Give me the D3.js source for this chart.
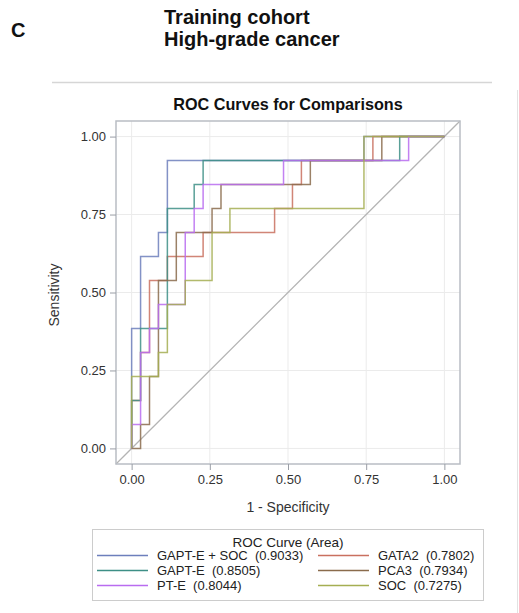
<!DOCTYPE html>
<html>
<head>
<meta charset="utf-8">
<script src="https://cdn.jsdelivr.net/npm/d3@7"></script>
<style>
  body { margin: 0; background: #fff; }
  svg { font-family: "Liberation Sans", Arial, sans-serif; }
  text { white-space: pre; }
</style>
</head>
<body>
<div id="chart"></div>
<script>
// counts of negatives / positives in the cohort
const nNeg = 35, nPos = 13;

// ROC vertices as [false positives, true positives]
const gaptSoc = [[0,0],[0,5],[1,5],[1,8],[3,8],[3,9],[4,9],[4,12],[26,12],[26,13],[35,13]];
const gata2 = [[0,0],[0,2],[1,2],[1,4],[2,4],[2,7],[4,7],[4,8],[8,8],[8,9],[16,9],[16,10],[18,10],[18,11],[19,11],[19,12],[27,12],[27,13],[35,13]];
const gapt = [[0,0],[0,2],[1,2],[1,5],[4,5],[4,10],[7,10],[7,11],[8,11],[8,12],[30,12],[30,13],[35,13]];
const pca3 = [[0,0],[1,0],[1,1],[2,1],[2,3],[3,3],[3,7],[5,7],[5,9],[9,9],[9,10],[10,10],[10,11],[20,11],[20,12],[28,12],[28,13],[35,13]];
const pte = [[0,0],[0,1],[1,1],[1,4],[2,4],[2,5],[3,5],[3,6],[6,6],[6,9],[7,9],[7,10],[8,10],[8,11],[17,11],[17,12],[31,12],[31,13],[35,13]];
const soc = [[0,0],[0,3],[3,3],[3,4],[4,4],[4,6],[6,6],[6,7],[9,7],[9,9],[11,9],[11,10],[26,10],[26,13],[35,13]];

const names = ['GAPT-E + SOC', 'GATA2', 'GAPT-E', 'PCA3', 'PT-E', 'SOC'];
const areas = ['0.9033', '0.7802', '0.8505', '0.7934', '0.8044', '0.7275'];
const curves = [gaptSoc, gata2, gapt, pca3, pte, soc];
const colors = ['#6d7fbc', '#c9705f', '#3d8f86', '#8a6b4c', '#b96cf0', '#a5ae52'];
const ticks = [0, 0.25, 0.5, 0.75, 1];

const W = 519, H = 613;
const svg = d3.select('#chart').append('svg')
  .attr('width', W).attr('height', H);

// panel header
svg.append('text').attr('x', 11).attr('y', 37)
  .attr('font-size', 20).attr('font-weight', 'bold').attr('fill', '#111').text('C');
svg.append('text').attr('x', 164).attr('y', 24)
  .attr('font-size', 20).attr('font-weight', 'bold').attr('fill', '#111').text('Training cohort');
svg.append('text').attr('x', 164).attr('y', 46)
  .attr('font-size', 20).attr('font-weight', 'bold').attr('fill', '#111').text('High-grade cancer');

// edges of the embedded graph image
svg.append('line').attr('x1', 52).attr('x2', 492).attr('y1', 82.5).attr('y2', 82.5)
  .attr('stroke', '#d6d6d6').attr('stroke-width', 1.5);
svg.append('line').attr('x1', 517.5).attr('x2', 517.5).attr('y1', 90).attr('y2', H)
  .attr('stroke', '#e2e2e2');

const x = d3.scaleLinear().domain([-0.05, 1.05]).range([116, 460]);
const y = d3.scaleLinear().domain([-0.05, 1.05]).range([464, 121]);

svg.append('text').attr('x', 288).attr('y', 110).attr('text-anchor', 'middle')
  .attr('font-size', 16.2).attr('font-weight', 'bold').attr('fill', '#111')
  .text('ROC Curves for Comparisons');

// grid
svg.append('g').selectAll('line').data(ticks).join('line')
  .attr('x1', d => x(d)).attr('x2', d => x(d))
  .attr('y1', y.range()[0]).attr('y2', y.range()[1])
  .attr('stroke', '#ebebeb');
svg.append('g').selectAll('line').data(ticks).join('line')
  .attr('y1', d => y(d)).attr('y2', d => y(d))
  .attr('x1', x.range()[0]).attr('x2', x.range()[1])
  .attr('stroke', '#ebebeb');

// diagonal reference
svg.append('line')
  .attr('x1', x(-0.05)).attr('y1', y(-0.05))
  .attr('x2', x(1.05)).attr('y2', y(1.05))
  .attr('stroke', '#b4b4b4').attr('stroke-width', 1.3);

// curves
const line = d3.line()
  .x(d => x(d[0] / nNeg))
  .y(d => y(d[1] / nPos));

svg.append('g').selectAll('path').data(curves).join('path')
  .attr('d', line)
  .attr('fill', 'none')
  .attr('stroke', (d, i) => colors[i])
  .attr('stroke-width', 1.5)
  .attr('stroke-opacity', 0.85);

// frame
svg.append('rect')
  .attr('x', x.range()[0]).attr('y', y.range()[1])
  .attr('width', x.range()[1] - x.range()[0])
  .attr('height', y.range()[0] - y.range()[1])
  .attr('fill', 'none').attr('stroke', '#b9bdc4').attr('stroke-width', 1.5);

// axes
const fmt = d3.format('.2f');
const gx = svg.append('g').attr('transform', `translate(0,${y.range()[0]})`)
  .call(d3.axisBottom(x).tickValues(ticks).tickFormat(fmt).tickSize(6).tickPadding(5));
const gy = svg.append('g').attr('transform', `translate(${x.range()[0]},0)`)
  .call(d3.axisLeft(y).tickValues(ticks).tickFormat(fmt).tickSize(6).tickPadding(4));
[gx, gy].forEach(g => {
  g.select('.domain').remove();
  g.selectAll('.tick line').attr('stroke', '#9a9ea6');
  g.selectAll('.tick text').attr('fill', '#333').attr('font-size', 13)
    .attr('font-family', '"Liberation Sans", Arial, sans-serif');
});

svg.append('text').attr('x', 288).attr('y', 512).attr('text-anchor', 'middle')
  .attr('font-size', 14).attr('fill', '#333').text('1 - Specificity');
svg.append('text').attr('transform', 'translate(59,295) rotate(-90)')
  .attr('text-anchor', 'middle').attr('font-size', 14).attr('fill', '#333')
  .text('Sensitivity');

// legend
svg.append('rect').attr('x', 92.5).attr('y', 529.5).attr('width', 391).attr('height', 71)
  .attr('fill', 'none').attr('stroke', '#cccccc');
svg.append('text').attr('x', 288).attr('y', 547).attr('text-anchor', 'middle')
  .attr('font-size', 13.5).attr('fill', '#222').text('ROC Curve (Area)');

const items = svg.append('g').selectAll('g').data(names).join('g')
  .attr('transform', (d, i) => `translate(${i % 2 ? 318 : 97},${560 + Math.floor(i / 2) * 15})`);
items.append('line').attr('x1', 0).attr('x2', 51).attr('y1', -4.5).attr('y2', -4.5)
  .attr('stroke', (d, i) => colors[i]).attr('stroke-width', 1.5);
items.append('text').attr('x', 60).attr('font-size', 13).attr('fill', '#222')
  .text((d, i) => `${d}  (${areas[i]})`);
</script>
</body>
</html>
